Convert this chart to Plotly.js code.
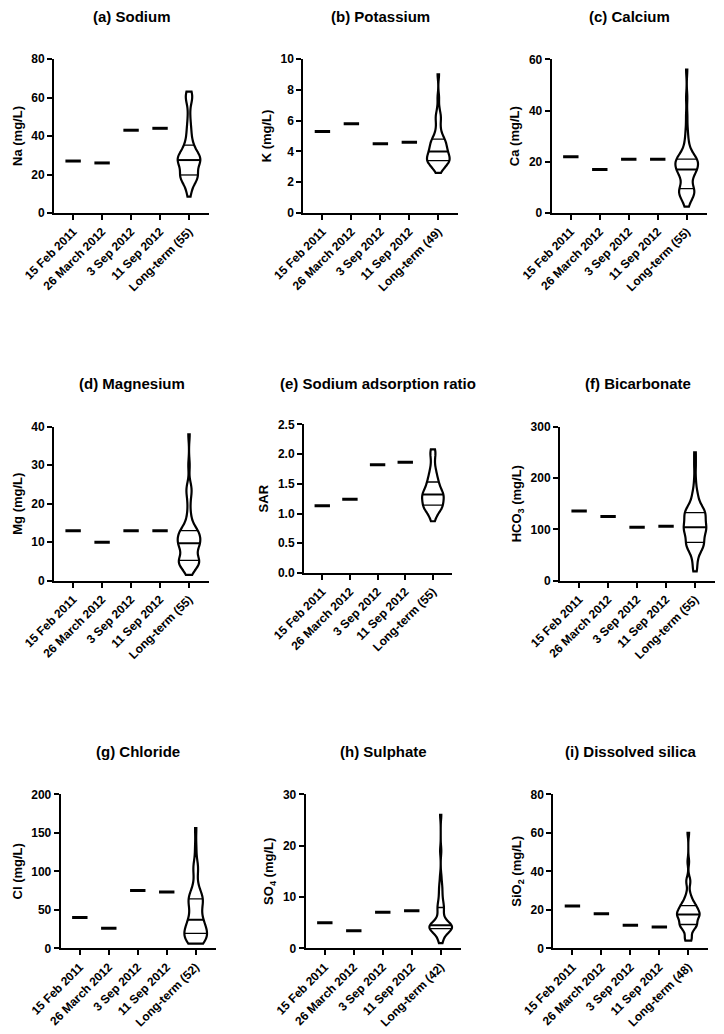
<!DOCTYPE html>
<html>
<head>
<meta charset="utf-8">
<script src="https://cdn.plot.ly/plotly-3.0.1.min.js"></script>
<style>html,body{margin:0;padding:0;background:#fff;}#chart{width:724px;height:1034px;}</style>
</head>
<body>
<div id="chart"></div>
<script>
// ---------- DATA ----------
const sampleDates = ['15 Feb 2011', '26 March 2012', '3 Sep 2012', '11 Sep 2012'];

const panelTitles = ['(a) Sodium', '(b) Potassium', '(c) Calcium', '(d) Magnesium', '(e) Sodium adsorption ratio',
  '(f) Bicarbonate', '(g) Chloride', '(h) Sulphate', '(i) Dissolved silica'];
const yTitles = ['Na (mg/L)', 'K (mg/L)', 'Ca (mg/L)', 'Mg (mg/L)', 'SAR', 'HCO<sub>3</sub> (mg/L)',
  'Cl (mg/L)', 'SO<sub>4</sub> (mg/L)', 'SiO<sub>2</sub> (mg/L)'];
const longTermLabels = ['Long-term (55)', 'Long-term (49)', 'Long-term (55)', 'Long-term (55)', 'Long-term (55)',
  'Long-term (55)', 'Long-term (52)', 'Long-term (42)', 'Long-term (48)'];
const yMax = [80, 10, 60, 40, 2.5, 300, 200, 30, 80];
const yStep = [20, 2, 20, 10, 0.5, 100, 50, 10, 20];

const naDates = [27, 26, 43, 44];
const kDates = [5.3, 5.8, 4.5, 4.6];
const caDates = [22, 17, 21, 21];
const mgDates = [13, 10, 13, 13];
const sarDates = [1.13, 1.24, 1.82, 1.86];
const hco3Dates = [136, 125, 104, 106];
const clDates = [40, 26, 75, 73];
const so4Dates = [5.0, 3.4, 7.0, 7.3];
const sio2Dates = [22, 18, 12, 11];

const naLong = [8.5, 11, 13, 14.5, 16, 17, 17.5, 18, 18.5, 19, 19, 19, 19.5, 19.5, 20, 21, 22, 23, 24, 25, 25.5,
  26, 26, 26.5, 27, 27, 27, 27.5, 28, 28.5, 29, 29, 29.5, 30, 30, 30.5, 31, 32, 33, 34, 35, 35.5, 37, 39, 41,
  43, 45, 48, 52, 57, 59, 60, 61, 62, 63];
const kLong = [2.6, 2.8, 2.9, 3.0, 3.1, 3.2, 3.2, 3.3, 3.3, 3.3, 3.4, 3.4, 3.4, 3.5, 3.5, 3.6, 3.6, 3.7, 3.7,
  3.8, 3.8, 3.9, 3.9, 4.0, 4.0, 4.1, 4.2, 4.2, 4.3, 4.4, 4.4, 4.5, 4.5, 4.6, 4.7, 4.8, 4.8, 4.9, 5.0, 5.2, 5.4,
  5.6, 5.9, 6.1, 6.3, 6.4, 6.8, 7.5, 9.0];
const caLong = [2.5, 4, 5, 6, 6.5, 7, 7.5, 8, 8, 8.5, 8.5, 9, 9, 9, 10, 11, 12, 13, 14, 14.5, 15, 15.5, 16, 16,
  16.5, 17, 17, 17, 17.5, 18, 18.5, 19, 19, 19.5, 19.5, 20, 20, 20.5, 20.5, 21, 21, 21, 21.5, 22, 22.5, 23, 24,
  25, 26, 28, 30, 33, 38, 45, 56];
const mgLong = [1.5, 2.5, 3, 3.5, 4, 4.2, 4.5, 4.6, 4.8, 4.9, 5, 5, 5, 5.1, 5.5, 6, 6.5, 7, 7.5, 8, 8.5, 9, 9,
  9.3, 9.5, 9.5, 9.7, 9.7, 10, 10.3, 10.5, 11, 11.2, 11.5, 11.8, 12, 12.2, 12.5, 12.5, 12.8, 13, 13, 13.5, 14,
  15, 16, 17, 19, 21, 22.5, 23.5, 24, 25, 30, 38];
const sarLong = [0.87, 0.92, 0.96, 1.0, 1.03, 1.05, 1.07, 1.08, 1.09, 1.1, 1.11, 1.12, 1.13, 1.13, 1.15, 1.17,
  1.19, 1.2, 1.22, 1.23, 1.24, 1.25, 1.26, 1.27, 1.28, 1.29, 1.3, 1.32, 1.33, 1.34, 1.35, 1.36, 1.37, 1.38, 1.4,
  1.42, 1.44, 1.46, 1.48, 1.5, 1.52, 1.54, 1.56, 1.59, 1.62, 1.65, 1.68, 1.72, 1.76, 1.82, 1.9, 1.97, 2.02,
  2.05, 2.08];
const hco3Long = [18, 25, 35, 45, 52, 58, 62, 65, 67, 69, 70, 71, 72, 73, 76, 80, 84, 87, 90, 93, 95, 97, 99,
  100, 101, 102, 103, 104, 106, 108, 110, 113, 116, 119, 122, 124, 126, 128, 130, 131, 132, 133, 135, 137, 139,
  141, 144, 148, 155, 162, 168, 175, 195, 225, 250];
const clLong = [6, 6.5, 7, 8, 9, 10, 12, 13, 14, 15, 16, 17, 18, 20, 21, 22, 23, 24, 25, 26, 27, 29, 31, 33, 35,
  36, 38, 40, 42, 45, 48, 51, 54, 57, 59, 61, 62, 63, 64, 65, 67, 69, 72, 75, 79, 85, 98, 103, 106, 110, 130, 156];
const so4Long = [1.0, 1.5, 2.0, 2.5, 3.0, 3.2, 3.4, 3.5, 3.6, 3.7, 3.8, 3.9, 4.0, 4.0, 4.1, 4.2, 4.2, 4.3, 4.4,
  4.4, 4.5, 4.5, 4.7, 4.9, 5.1, 5.4, 5.8, 6.3, 6.9, 7.4, 7.8, 8.0, 8.4, 8.9, 9.5, 10.2, 11.0, 11.8, 12.5, 14.0,
  19.0, 26.0];
const sio2Long = [4, 4.5, 5, 6, 8, 9.5, 10.5, 11, 11.5, 11.8, 12, 12, 12.5, 13, 13.5, 14, 15, 15.5, 16, 16.5, 17,
  17, 17.5, 17.5, 17.5, 18, 18, 18.5, 19, 19.5, 20, 20.5, 21, 21.5, 22, 22, 22.5, 23, 24, 25, 26, 27, 29, 33, 35,
  36, 45, 60];

const datesByPanel = [naDates, kDates, caDates, mgDates, sarDates, hco3Dates, clDates, so4Dates, sio2Dates];
const longByPanel = [naLong, kLong, caLong, mgLong, sarLong, hco3Long, clLong, so4Long, sio2Long];

// ---------- LAYOUT GEOMETRY (pixels) ----------
const W = 724, H = 1034;
// [left, top, bottom, width] of each plot box
const boxes = [
  [54, 59, 213, 155], [303.3, 59, 213, 155], [551.7, 59.3, 213, 155],
  [54, 426.7, 580.7, 155], [304, 424.3, 573, 148], [560, 426.7, 580.7, 155],
  [60.7, 794.3, 948.3, 155], [305.7, 794.3, 948.3, 155], [553.3, 794.3, 948.3, 155]
];
const titleY = [16, 16, 16, 383.3, 383.3, 383.3, 751.7, 751.7, 751.7];
const FONT = 'Liberation Sans, Arial, sans-serif';
const VW = 0.78;      // violin width in category units
const SMOOTH = 0.6;   // kernel bandwidth relative to Silverman's rule

// ---------- helpers ----------
function quantile(sorted, p) {
  const idx = (sorted.length - 1) * p;
  const lo = Math.floor(idx), hi = Math.ceil(idx);
  return sorted[lo] + (sorted[hi] - sorted[lo]) * (idx - lo);
}
function stdev(v) {
  const m = v.reduce((a, b) => a + b, 0) / v.length;
  return Math.sqrt(v.reduce((a, b) => a + (b - m) * (b - m), 0) / (v.length - 1));
}
function kdeFn(vals, bw) {
  const f = 1 / (vals.length * bw * Math.sqrt(2 * Math.PI));
  return x => { let s = 0; for (const v of vals) { const u = (x - v) / bw; s += Math.exp(-0.5 * u * u); } return f * s; };
}

const traces = [];
const layout = {
  width: W, height: H, margin: {l: 0, r: 0, t: 0, b: 0},
  paper_bgcolor: '#fff', plot_bgcolor: 'rgba(0,0,0,0)',
  showlegend: false, violingap: 0, violingroupgap: 0, violinmode: 'overlay',
  font: {family: FONT, color: '#000'},
  annotations: []
};

for (let i = 0; i < 9; i++) {
  const n = i + 1;
  const xs = i === 0 ? 'x' : 'x' + n, ys = i === 0 ? 'y' : 'y' + n;
  const xk = i === 0 ? 'xaxis' : 'xaxis' + n, yk = i === 0 ? 'yaxis' : 'yaxis' + n;
  const [L, T, B, Wd] = boxes[i];
  const vals = longByPanel[i].slice().sort((a, b) => a - b);

  const q1 = quantile(vals, 0.25), q2 = quantile(vals, 0.5), q3 = quantile(vals, 0.75);
  const bw = SMOOTH * 1.059 * Math.min(stdev(vals), (q3 - q1) / 1.349) * Math.pow(vals.length, -0.2);

  // single-date dashes
  traces.push({
    type: 'scatter', mode: 'markers', xaxis: xs, yaxis: ys,
    x: [0, 1, 2, 3], y: datesByPanel[i],
    marker: {symbol: 'line-ew', size: 11, color: '#000', line: {color: '#000', width: 3}},
    hoverinfo: 'skip'
  });

  // violin
  traces.push({
    type: 'violin', xaxis: xs, yaxis: ys, x0: 4, y: vals, width: VW,
    bandwidth: bw, spanmode: 'hard', points: false, scalemode: 'width',
    line: {color: '#000', width: 2.2}, fillcolor: '#fff',
    box: {visible: false}, meanline: {visible: false}, hoverinfo: 'skip'
  });

  // quartile / median lines across violin width
  const kde = kdeFn(vals, bw);
  const span = [vals[0], vals[vals.length - 1]];
  const dist = span[1] - span[0];
  const ng = Math.ceil(dist / (bw / 3));
  const step = dist / ng;
  let maxK = 0;
  for (let t = span[0]; t < span[1] + step / 2; t += step) maxK = Math.max(maxK, kde(t));
  const hw = q => (VW / 2) * kde(q) / maxK;
  traces.push({
    type: 'scatter', mode: 'lines', xaxis: xs, yaxis: ys,
    x: [4 - hw(q1), 4 + hw(q1), null, 4 - hw(q3), 4 + hw(q3)],
    y: [q1, q1, null, q3, q3],
    line: {color: '#000', width: 1.3}, hoverinfo: 'skip'
  });
  traces.push({
    type: 'scatter', mode: 'lines', xaxis: xs, yaxis: ys,
    x: [4 - hw(q2), 4 + hw(q2)], y: [q2, q2],
    line: {color: '#000', width: 2}, hoverinfo: 'skip'
  });

  layout[xk] = {
    domain: [L / W, (L + Wd) / W], range: [-0.66, 4.69], anchor: ys,
    tickmode: 'array', tickvals: [0, 1, 2, 3, 4], ticktext: sampleDates.concat([longTermLabels[i]]),
    tickangle: -45, ticks: 'outside', ticklen: 5, tickwidth: 2, tickcolor: '#000',
    showline: true, linewidth: 2, linecolor: '#000', showgrid: false, zeroline: false,
    tickfont: {family: FONT, size: 12, weight: 'bold', color: '#000'}, fixedrange: true
  };
  const yax = {
    domain: [1 - B / H, 1 - T / H], range: [0, yMax[i]], anchor: xs,
    tickmode: 'linear', tick0: 0, dtick: yStep[i],
    ticks: 'outside', ticklen: 5, tickwidth: 2, tickcolor: '#000',
    showline: true, linewidth: 2, linecolor: '#000', showgrid: false, zeroline: false,
    tickfont: {family: FONT, size: 12, weight: 'bold', color: '#000'}, fixedrange: true,
    title: {text: yTitles[i], font: {family: FONT, size: 13, weight: 'bold', color: '#000'}, standoff: 6}
  };
  if (i === 4) yax.tickformat = '.1f';
  layout[yk] = yax;
  layout.annotations.push({
    xref: 'paper', yref: 'paper', x: (L + Wd / 2) / W, y: 1 - titleY[i] / H,
    xanchor: 'center', yanchor: 'middle', showarrow: false,
    text: panelTitles[i], font: {family: FONT, size: 15, weight: 'bold', color: '#000'}
  });
}

Plotly.newPlot('chart', traces, layout, {staticPlot: true, displayModeBar: false});
</script>
</body>
</html>
